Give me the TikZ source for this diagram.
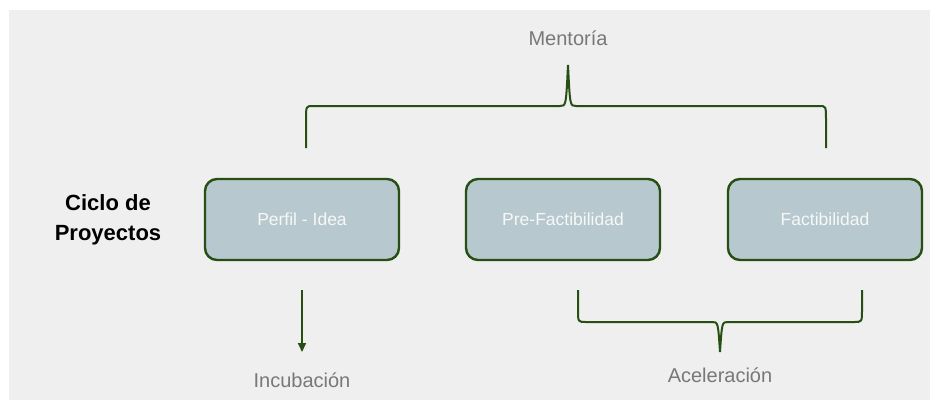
\documentclass[tikz,border=0pt]{standalone}
\usepackage{fontspec}
\setmainfont{Liberation Sans}
\usetikzlibrary{arrows.meta}
\definecolor{darkgreen}{HTML}{274E13}
\definecolor{boxfill}{HTML}{B7C9CF}
\definecolor{bggray}{HTML}{EFEFEF}
\definecolor{labelgray}{HTML}{787878}
\begin{document}
\begin{tikzpicture}[x=1pt, y=-1pt,
    stage/.style={draw=darkgreen, line width=2.4pt, fill=boxfill, rounded corners=12pt,
        minimum width=194pt, minimum height=81pt, text=white!97!black,
        font=\fontsize{17.5}{21}\selectfont},
    phase/.style={text=labelgray, font=\fontsize{20}{24}\selectfont},
    brace line/.style={draw=darkgreen, line width=2pt}]

    % Background
    \useasboundingbox (0,0) rectangle (930,400);
    \fill[white] (0,0) rectangle (930,400);
    \fill[bggray] (9,10) rectangle (930,400);

    % Stages
    \node[stage] (idea) at (302,219.5) {Perfil - Idea};
    \node[stage] (prefact) at (563,219.5) {Pre-Factibilidad};
    \node[stage] (fact) at (825,219.5) {Factibilidad};

    \node[align=center, font=\fontsize{22}{30}\selectfont\bfseries] (ciclo) at (108,220) {Ciclo de\\Proyectos};

    % Labels
    \node[phase] (mentoria) at (568,38) {Mentoría};
    \node[phase] (incubacion) at (302,380) {Incubación};
    \node[phase] (aceleracion) at (720,375) {Aceleración};

    % Top brace
    \coordinate (mL) at (306,148);
    \coordinate (mT) at (568,65);
    \coordinate (mR) at (826,148);
    \draw[brace line] (mL) -- (306,120) .. controls (306,106) .. (313,106)
        -- (560,106) .. controls (566,106) .. (mT)
        .. controls (570,106) .. (576,106) -- (819,106)
        .. controls (826,106) .. (826,120) -- (mR);

    % Incubation arrow
    \coordinate (aT) at (302,290);
    \coordinate (aE) at (302,352);
    \draw[darkgreen, line width=2pt, -{Triangle[length=9pt, width=8pt]}] (aT) -- (aE);

    % Bottom brace
    \coordinate (aL) at (578,290);
    \coordinate (aB) at (720,352);
    \coordinate (aR) at (862,290);
    \draw[brace line] (aL) -- (578,310) .. controls (578,322) .. (586,322)
        -- (712,322) .. controls (718,322) .. (aB)
        .. controls (722,322) .. (728,322) -- (854,322)
        .. controls (862,322) .. (862,310) -- (aR);

\end{tikzpicture}
\end{document}
